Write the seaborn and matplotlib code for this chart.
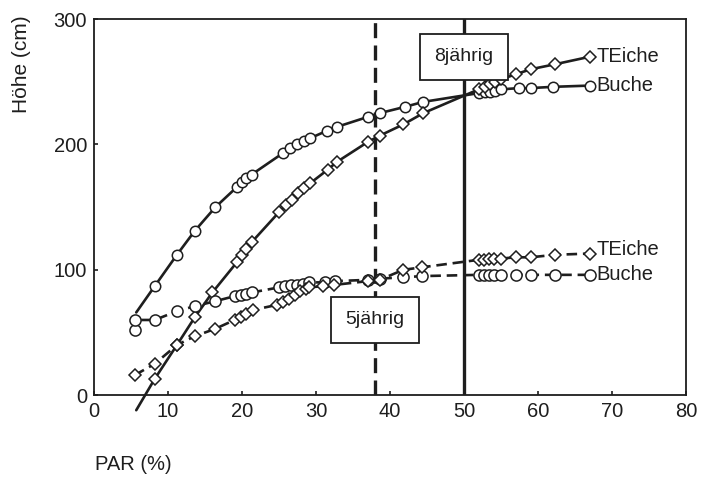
import numpy as np
import seaborn as sns
import matplotlib.pyplot as plt

# 8-year curves (solid); first point is only the start of the fitted line
buche8_x = [5.7, 8.2, 11.2, 13.6, 16.4, 19.3, 20.0, 20.6, 21.3, 25.5, 26.5, 27.5, 28.4, 29.2,
            31.5, 32.8, 37.0, 38.6, 42.0, 44.5, 52.0, 52.8, 53.5, 54.2, 55.0, 57.5, 59.0, 62.0, 67.0]
buche8_y = [66, 87, 112, 131, 150, 166, 170, 173, 176, 193, 197, 200, 203, 205,
            211, 214, 222, 225, 230, 234, 241, 242, 242, 243, 244, 245, 245, 246, 247]
teiche8_x = [5.7, 8.2, 11.2, 13.6, 16.0, 19.3, 20.0, 20.6, 21.3, 25.0, 26.0, 26.8, 27.6, 28.4, 29.2,
             31.6, 32.8, 37.0, 38.6, 41.8, 44.5, 52.0, 52.8, 53.5, 54.2, 55.0, 57.0, 59.0, 62.3, 67.0]
teiche8_y = [-12, 13, 40, 62, 82, 106, 112, 117, 122, 146, 152, 156, 161, 165, 169,
             180, 186, 202, 207, 216, 225, 244, 246, 248, 250, 252, 256, 260, 264, 270]

# 5-year curves (dashed)
buche5_x = [5.5, 5.5, 8.2, 11.2, 13.6, 16.4, 19.0, 19.8, 20.6, 21.4, 25.0, 25.8, 26.6, 27.4, 28.2, 29.0,
            31.2, 32.6, 37.0, 38.6, 41.8, 44.3, 52.0, 52.7, 53.4, 54.1, 55.0, 57.0, 59.0, 62.3, 67.0]
buche5_y = [52, 60, 60, 67, 71, 75, 79, 80, 81, 82, 86, 87, 88, 88, 89, 90,
            90, 91, 92, 93, 94, 95, 96, 96, 96, 96, 96, 96, 96, 96, 96]
teiche5_x = [5.5, 8.2, 11.2, 13.6, 16.4, 19.0, 19.8, 20.6, 21.5, 24.7, 25.5, 26.3, 27.1, 27.9, 28.6, 29.0,
             31.0, 32.5, 37.0, 38.6, 41.8, 44.3, 52.0, 52.7, 53.4, 54.1, 55.0, 57.0, 59.0, 62.3, 67.0]
teiche5_y = [16, 25, 40, 47, 53, 60, 62, 65, 68, 72, 74, 77, 80, 83, 85, 86,
             87, 88, 91, 92, 100, 102, 108, 108, 109, 109, 109, 110, 110, 112, 113]

x_ticks = [0, 10, 20, 30, 40, 50, 60, 70, 80]
y_ticks = [0, 100, 200, 300]
age_lines = {"5jährig": (38, 60), "8jährig": (50, 270)}

sns.set_style("ticks")
plt.rcParams['font.family'] = ['Liberation Sans', 'DejaVu Sans']
plt.rcParams['font.size'] = 14

ink = "#1e1e1e"
fig = plt.figure(figsize=(7.02, 4.79), dpi=100)
ax = fig.add_axes([0.134, 0.175, 0.843, 0.785])

# age reference lines
ax.axvline(38, color=ink, lw=2.4, ls=(0, (4.5, 2.2)), zorder=1)
ax.axvline(50, color=ink, lw=2.4, zorder=1)

common = dict(ax=ax, color=ink, lw=1.9, estimator=None, sort=False, clip_on=False,
              markerfacecolor="white", markeredgecolor=ink, markeredgewidth=1.1, zorder=3)
sns.lineplot(x=buche8_x, y=buche8_y, marker="o", markersize=7.5, markevery=list(range(1, len(buche8_x))), **common)
sns.lineplot(x=teiche8_x, y=teiche8_y, marker="D", markersize=6, markevery=list(range(1, len(teiche8_x))), **common)
sns.lineplot(x=buche5_x, y=buche5_y, marker="o", markersize=8, ls=(0, (4, 2.2)), **common)
sns.lineplot(x=teiche5_x, y=teiche5_y, marker="D", markersize=6, ls=(0, (4, 2.2)), **common)

# series labels at the curve ends
for lab, xs, ys, dy in [("TEiche", teiche8_x, teiche8_y, 0), ("Buche", buche8_x, buche8_y, 0),
                        ("TEiche", teiche5_x, teiche5_y, 3), ("Buche", buche5_x, buche5_y, 0)]:
    ax.annotate(lab, (xs[-1], ys[-1] + dy), xytext=(5, 0), textcoords="offset points",
                ha="left", va="center", fontsize=14.5, color=ink)

for lab, (xv, yv) in age_lines.items():
    ax.text(xv, yv, lab, ha="center", va="center", fontsize=14, color=ink, zorder=5,
            bbox=dict(boxstyle="square,pad=0.75", fc="white", ec=ink, lw=1.3))

ax.set_xlim(0, 80)
ax.set_ylim(0, 300)
ax.set_xticks(x_ticks)
ax.set_yticks(y_ticks)
ax.tick_params(direction="in", length=3, width=1.2, colors=ink, labelsize=14.5, pad=5)
for sp in ax.spines.values():
    sp.set_linewidth(1.3)
    sp.set_color(ink)
ax.set_xlabel("")
ax.set_ylabel("")

fig.text(22 / 702, 1 - 15 / 479, "Höhe (cm)", rotation=90, ha="center", va="top", fontsize=15, color=ink)
fig.text(95 / 702, 1 - 465 / 479, "PAR (%)", ha="left", va="center", fontsize=14.5, color=ink)

fig.savefig("out.png", dpi=100)
